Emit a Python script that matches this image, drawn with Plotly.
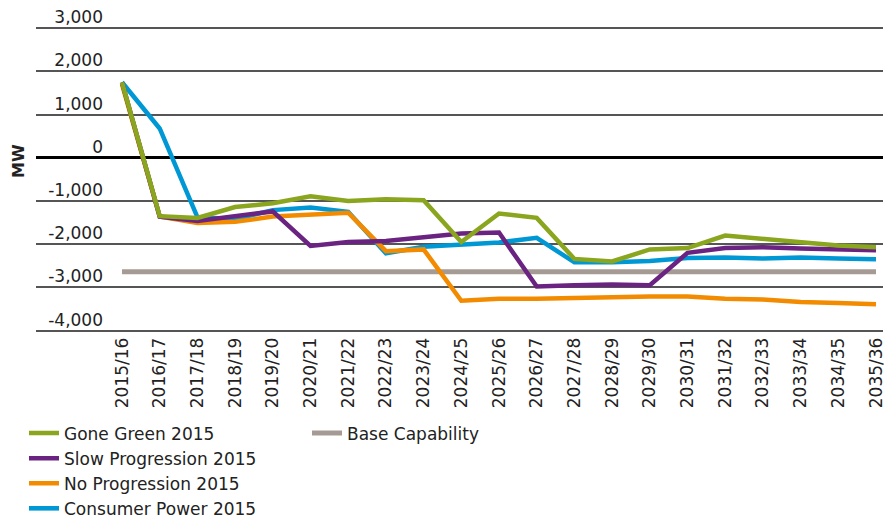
import plotly.graph_objects as go

years = ["2015/16", "2016/17", "2017/18", "2018/19", "2019/20", "2020/21", "2021/22",
         "2022/23", "2023/24", "2024/25", "2025/26", "2026/27", "2027/28", "2028/29",
         "2029/30", "2030/31", "2031/32", "2032/33", "2033/34", "2034/35", "2035/36"]

gone_green = [1750, -1350, -1390, -1140, -1050, -890, -1000, -960, -980, -1950, -1290,
              -1390, -2340, -2400, -2120, -2090, -1800, -1870, -1950, -2030, -2070]
slow_progression = [1750, -1360, -1460, -1350, -1240, -2040, -1950, -1925, -1850, -1750,
                    -1730, -2980, -2950, -2930, -2950, -2200, -2090, -2070, -2100, -2120, -2140]
no_progression = [1700, -1360, -1510, -1480, -1360, -1310, -1270, -2160, -2120, -3310,
                  -3260, -3260, -3240, -3210, -3210, -3210, -3260, -3280, -3340, -3360, -3390]
consumer_power = [1750, 680, -1370, -1420, -1210, -1150, -1250, -2210, -2060, -2000,
                  -1960, -1850, -2420, -2420, -2390, -2320, -2310, -2330, -2310, -2330, -2350]
base_capability = [-2640] * len(years)

y_ticks = [3000, 2000, 1000, 0, -1000, -2000, -3000, -4000]
y_tick_labels = ["3,000", "2,000", "1,000", "0", "-1,000", "-2,000", "-3,000", "-4,000"]

# page has an 8px body margin, so the figure is drawn 8px smaller and all
# positions below are in figure pixels (page pixels minus 8)
OFF = 8
W, H = 894 - OFF, 520 - OFF
FONT = "DejaVu Sans, Liberation Sans, sans-serif"
TXT = "#222222"

fig = go.Figure()

series = [
    ("Base Capability", base_capability, "#A69B94", 5, "legend2", 5),
    ("Consumer Power 2015", consumer_power, "#0098D4", 4.5, "legend", 4),
    ("No Progression 2015", no_progression, "#F38B00", 4.5, "legend", 3),
    ("Slow Progression 2015", slow_progression, "#6A2381", 4.5, "legend", 2),
    ("Gone Green 2015", gone_green, "#8AA51E", 4.5, "legend", 1),
]
for name, vals, color, width, leg, rank in series:
    fig.add_trace(go.Scatter(
        x=years, y=vals, name=name, mode="lines",
        line=dict(color=color, width=width),
        legend=leg, legendrank=rank,
    ))

x_left, x_right = 36 - OFF, 883 - OFF
pad = 60  # small value padding so the edge gridlines are drawn
px_per_unit = (330.6 - 28.3) / 7000
y_top = 28.3 - OFF - pad * px_per_unit
y_bot = 330.6 - OFF + pad * px_per_unit
cat0_px, step_px = 122 - OFF, 37.7

fig.update_layout(
    width=W, height=H,
    margin=dict(l=0, r=0, t=0, b=0, autoexpand=False),
    paper_bgcolor="white", plot_bgcolor="white",
    font=dict(family=FONT, size=17, color=TXT),
    xaxis=dict(
        type="category",
        domain=[x_left / W, x_right / W],
        range=[(x_left - cat0_px) / step_px, (x_right - cat0_px) / step_px],
        tickangle=-90,
        tickfont=dict(size=17, color=TXT),
        showgrid=False, zeroline=False,
        showline=False, ticks="", automargin=False,
    ),
    yaxis=dict(
        domain=[1 - y_bot / H, 1 - y_top / H],
        range=[-4000 - pad, 3000 + pad],
        tickvals=y_ticks, ticktext=y_tick_labels,
        anchor="free", position=(103 - OFF) / W,
        ticklabelshift=-11, ticklabeloverflow="allow",
        tickfont=dict(size=17, color=TXT),
        showgrid=True, gridcolor="#555555", gridwidth=1.5,
        zeroline=True, zerolinecolor="#000000", zerolinewidth=2.5,
        showline=False, ticks="", automargin=False,
    ),
    legend=dict(
        x=(24 - OFF) / W, y=1 - (415.5 - OFF) / H, xanchor="left", yanchor="top",
        font=dict(size=17, color=TXT), traceorder="normal",
        bgcolor="rgba(0,0,0,0)", tracegroupgap=0,
    ),
    legend2=dict(
        x=(307 - OFF) / W, y=1 - (415.5 - OFF) / H, xanchor="left", yanchor="top",
        font=dict(size=17, color=TXT),
        bgcolor="rgba(0,0,0,0)",
    ),
    annotations=[dict(
        text="<b>MW</b>", textangle=-90, x=0, y=1 - (161.5 - OFF) / H,
        xref="paper", yref="paper", xanchor="left", yanchor="middle",
        borderpad=0, showarrow=False,
        font=dict(size=16, color=TXT, family=FONT),
    )],
)

fig.write_html("out.html")
